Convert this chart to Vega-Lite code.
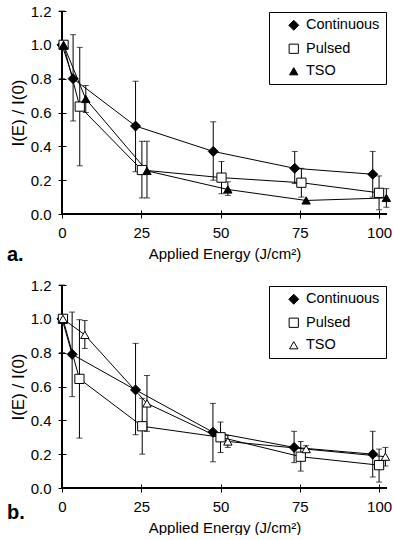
{
  "$schema": "https://vega.github.io/schema/vega-lite/v6.json",
  "padding": {"left": 7, "top": 4, "right": 0, "bottom": 0},
  "spacing": 13,
  "resolve": {
    "scale": {"fill": "independent", "shape": "independent", "size": "independent"},
    "legend": {"fill": "independent", "shape": "independent", "size": "independent"}
  },
  "config": {
    "font": "Liberation Sans",
    "view": {"stroke": null},
    "axis": {
      "grid": false, "domain": false, "tickSize": 8, "offset": -4, "tickColor": "black", "tickWidth": 1,
      "labelFontSize": 15, "labelColor": "black", "labelPadding": 7, "labelFlush": false, "labelOverlap": false,
      "titleFontSize": 15, "titleFontWeight": "normal", "titleColor": "black"
    },
    "axisX": {"titlePadding": 6},
    "axisY": {"titleFontSize": 17, "titlePadding": 3},
    "legend": {
      "title": null, "orient": "top-right", "offset": 1,
      "strokeColor": "black", "fillColor": "white", "padding": 6,
      "labelFontSize": 14.5, "labelColor": "black", "symbolSize": 100, "symbolOffset": 11.5, "labelOffset": 5, "rowPadding": 7.5,
      "symbolStrokeColor": "black", "symbolStrokeWidth": 1
    }
  },
  "datasets": {
    "a": [
      {"series": "Continuous", "x": 0, "y": 1.0, "lo": 0.8, "hi": 1.2},
      {"series": "Continuous", "x": 3.5, "y": 0.80, "lo": 0.55, "hi": 1.06},
      {"series": "Continuous", "x": 23.2, "y": 0.52, "lo": 0.25, "hi": 0.785},
      {"series": "Continuous", "x": 47.7, "y": 0.37, "lo": 0.2, "hi": 0.545},
      {"series": "Continuous", "x": 73.4, "y": 0.27, "lo": 0.18, "hi": 0.37},
      {"series": "Continuous", "x": 98, "y": 0.235, "lo": 0.1, "hi": 0.37},
      {"series": "Pulsed", "x": 0.5, "y": 1.0},
      {"series": "Pulsed", "x": 5.6, "y": 0.635, "lo": 0.285, "hi": 0.985},
      {"series": "Pulsed", "x": 25.2, "y": 0.26, "lo": 0.095, "hi": 0.43},
      {"series": "Pulsed", "x": 50.3, "y": 0.215, "lo": 0.12, "hi": 0.31},
      {"series": "Pulsed", "x": 75.5, "y": 0.185, "lo": 0.1, "hi": 0.27},
      {"series": "Pulsed", "x": 100, "y": 0.125, "lo": 0.025, "hi": 0.225},
      {"series": "TSO", "x": 0.5, "y": 1.0},
      {"series": "TSO", "x": 7.5, "y": 0.68, "lo": 0.6, "hi": 0.76},
      {"series": "TSO", "x": 26.8, "y": 0.255, "lo": 0.095, "hi": 0.43},
      {"series": "TSO", "x": 52.3, "y": 0.145, "lo": 0.11, "hi": 0.19},
      {"series": "TSO", "x": 77, "y": 0.08},
      {"series": "TSO", "x": 102.3, "y": 0.095, "lo": 0.04, "hi": 0.15}
    ],
    "b": [
      {"series": "Continuous", "x": 0, "y": 1.0, "lo": 0.8, "hi": 1.2},
      {"series": "Continuous", "x": 3.2, "y": 0.79, "lo": 0.54, "hi": 1.04},
      {"series": "Continuous", "x": 23.2, "y": 0.58, "lo": 0.315, "hi": 0.855},
      {"series": "Continuous", "x": 47.6, "y": 0.33, "lo": 0.155, "hi": 0.5},
      {"series": "Continuous", "x": 73.2, "y": 0.24, "lo": 0.15, "hi": 0.335},
      {"series": "Continuous", "x": 98, "y": 0.2, "lo": 0.065, "hi": 0.335},
      {"series": "Pulsed", "x": 0.3, "y": 1.0},
      {"series": "Pulsed", "x": 5.5, "y": 0.645, "lo": 0.295, "hi": 0.995},
      {"series": "Pulsed", "x": 25.3, "y": 0.365, "lo": 0.2, "hi": 0.53},
      {"series": "Pulsed", "x": 50, "y": 0.3, "lo": 0.21, "hi": 0.39},
      {"series": "Pulsed", "x": 75.3, "y": 0.185, "lo": 0.1, "hi": 0.275},
      {"series": "Pulsed", "x": 100, "y": 0.135, "lo": 0.035, "hi": 0.23},
      {"series": "TSO", "x": 0.3, "y": 1.0},
      {"series": "TSO", "x": 7.2, "y": 0.905, "lo": 0.825, "hi": 0.99},
      {"series": "TSO", "x": 26.8, "y": 0.5, "lo": 0.335, "hi": 0.665},
      {"series": "TSO", "x": 52.3, "y": 0.275, "lo": 0.24, "hi": 0.31},
      {"series": "TSO", "x": 77, "y": 0.23, "lo": 0.21, "hi": 0.25},
      {"series": "TSO", "x": 102, "y": 0.185, "lo": 0.13, "hi": 0.24}
    ]
  },
  "vconcat": [
    {
      "width": 325, "height": 203,
      "title": {"text": "a.", "orient": "bottom", "anchor": "start", "frame": "group", "fontSize": 20, "fontWeight": "bold", "color": "black", "dx": -55, "offset": -16},
      "data": {"name": "a"},
      "layer": [
        {"mark": {"type": "rule", "color": "black", "strokeWidth": 1},
         "encoding": {"y": {"datum": 0, "type": "quantitative", "scale": {"domain": [0, 1.2], "nice": false},
                  "axis": {"values": [0, 0.2, 0.4, 0.6, 0.8, 1.0, 1.2], "format": ".1f", "title": "I(E) / I(0)"}}}},
        {"mark": {"type": "rule", "color": "black", "strokeWidth": 1},
         "encoding": {"x": {"datum": 0, "type": "quantitative", "scale": {"domain": [0, 102.5], "nice": false, "zero": false},
                  "axis": {"values": [0, 25, 50, 75, 100], "title": "Applied Energy (J/cm²)"}}}},
        {
          "transform": [{"filter": "isValid(datum.lo)"}],
          "mark": {"type": "errorbar", "ticks": {"size": 6, "color": "black", "thickness": 1}, "rule": {"color": "black", "strokeWidth": 1}},
          "encoding": {
            "x": {"field": "x", "type": "quantitative", "axis": {"values": [0, 25, 50, 75, 100], "title": "Applied Energy (J/cm²)"}},
            "y": {"field": "lo", "type": "quantitative", "axis": {"values": [0, 0.2, 0.4, 0.6, 0.8, 1.0, 1.2], "format": ".1f", "title": "I(E) / I(0)"}},
            "y2": {"field": "hi"}
          }
        },
        {
          "mark": {"type": "line", "color": "black", "strokeWidth": 1},
          "encoding": {
            "x": {"field": "x", "type": "quantitative", "axis": {"values": [0, 25, 50, 75, 100], "title": "Applied Energy (J/cm²)"}},
            "y": {"field": "y", "type": "quantitative", "axis": {"values": [0, 0.2, 0.4, 0.6, 0.8, 1.0, 1.2], "format": ".1f", "title": "I(E) / I(0)"}},
            "detail": {"field": "series"}}
        },
        {
          "mark": {"type": "point", "stroke": "black", "strokeWidth": 1, "opacity": 1, "fillOpacity": 1},
          "encoding": {
            "x": {"field": "x", "type": "quantitative", "axis": {"values": [0, 25, 50, 75, 100], "title": "Applied Energy (J/cm²)"}},
            "y": {"field": "y", "type": "quantitative", "axis": {"values": [0, 0.2, 0.4, 0.6, 0.8, 1.0, 1.2], "format": ".1f", "title": "I(E) / I(0)"}},
            "shape": {"field": "series", "type": "nominal", "scale": {"domain": ["Continuous", "Pulsed", "TSO"], "range": ["diamond", "square", "triangle-up"]}, "legend": null},
            "fill": {"field": "series", "type": "nominal", "scale": {"domain": ["Continuous", "Pulsed", "TSO"], "range": ["black", "white", "black"]},
              "legend": {
                "symbolType": {"expr": "datum.value === 'Continuous' ? 'M-2.8,0H-1M-1,0L0,-1L1,0L0,1ZM1,0H2.8' : datum.value === 'Pulsed' ? 'M-2.8,0H-0.8M-0.8,-0.8H0.8V0.8H-0.8ZM0.8,0H2.8' : 'M-2.8,0H-0.53M0.53,0H2.8M0,-0.9L1,0.8L-1,0.8Z'"},
                "encoding": {"symbols": {
                "shape": {"value": {"expr": "datum.value === 'Continuous' ? 'M-2.8,0H-1M-1,0L0,-1L1,0L0,1ZM1,0H2.8' : datum.value === 'Pulsed' ? 'M-2.8,0H-0.8M-0.8,-0.8H0.8V0.8H-0.8ZM0.8,0H2.8' : 'M-2.8,0H-0.53M0.53,0H2.8M0,-0.9L1,0.8L-1,0.8Z'"}},
                "fill": {"value": {"expr": "datum.value === 'Pulsed' ? 'white' : 'black'"}},
                "size": {"value": 100},
                "stroke": {"value": "black"}, "strokeWidth": {"value": 1}, "opacity": {"value": 1}, "fillOpacity": {"value": 1}}}}},
            "size": {"field": "series", "type": "ordinal", "scale": {"domain": ["Continuous", "Pulsed", "TSO"], "range": [100, 70, 80]},
              "legend": {
                "symbolType": {"expr": "datum.value === 'Continuous' ? 'M-2.8,0H-1M-1,0L0,-1L1,0L0,1ZM1,0H2.8' : datum.value === 'Pulsed' ? 'M-2.8,0H-0.8M-0.8,-0.8H0.8V0.8H-0.8ZM0.8,0H2.8' : 'M-2.8,0H-0.53M0.53,0H2.8M0,-0.9L1,0.8L-1,0.8Z'"},
                "encoding": {"symbols": {
                "shape": {"value": {"expr": "datum.value === 'Continuous' ? 'M-2.8,0H-1M-1,0L0,-1L1,0L0,1ZM1,0H2.8' : datum.value === 'Pulsed' ? 'M-2.8,0H-0.8M-0.8,-0.8H0.8V0.8H-0.8ZM0.8,0H2.8' : 'M-2.8,0H-0.53M0.53,0H2.8M0,-0.9L1,0.8L-1,0.8Z'"}},
                "fill": {"value": {"expr": "datum.value === 'Pulsed' ? 'white' : 'black'"}},
                "size": {"value": 100},
                "stroke": {"value": "black"}, "strokeWidth": {"value": 1}, "opacity": {"value": 1}, "fillOpacity": {"value": 1}}}}}
          }
        }
      ]
    },
    {
      "width": 325, "height": 203,
      "title": {"text": "b.", "orient": "bottom", "anchor": "start", "frame": "group", "fontSize": 20, "fontWeight": "bold", "color": "black", "dx": -55, "offset": -32},
      "data": {"name": "b"},
      "layer": [
        {"mark": {"type": "rule", "color": "black", "strokeWidth": 1},
         "encoding": {"y": {"datum": 0, "type": "quantitative", "scale": {"domain": [0, 1.2], "nice": false},
                  "axis": {"values": [0, 0.2, 0.4, 0.6, 0.8, 1.0, 1.2], "format": ".1f", "title": "I(E) / I(0)"}}}},
        {"mark": {"type": "rule", "color": "black", "strokeWidth": 1},
         "encoding": {"x": {"datum": 0, "type": "quantitative", "scale": {"domain": [0, 102.5], "nice": false, "zero": false},
                  "axis": {"values": [0, 25, 50, 75, 100], "title": "Applied Energy (J/cm²)"}}}},
        {
          "transform": [{"filter": "isValid(datum.lo)"}],
          "mark": {"type": "errorbar", "ticks": {"size": 6, "color": "black", "thickness": 1}, "rule": {"color": "black", "strokeWidth": 1}},
          "encoding": {
            "x": {"field": "x", "type": "quantitative", "axis": {"values": [0, 25, 50, 75, 100], "title": "Applied Energy (J/cm²)"}},
            "y": {"field": "lo", "type": "quantitative", "axis": {"values": [0, 0.2, 0.4, 0.6, 0.8, 1.0, 1.2], "format": ".1f", "title": "I(E) / I(0)"}},
            "y2": {"field": "hi"}
          }
        },
        {
          "mark": {"type": "line", "color": "black", "strokeWidth": 1},
          "encoding": {
            "x": {"field": "x", "type": "quantitative", "axis": {"values": [0, 25, 50, 75, 100], "title": "Applied Energy (J/cm²)"}},
            "y": {"field": "y", "type": "quantitative", "axis": {"values": [0, 0.2, 0.4, 0.6, 0.8, 1.0, 1.2], "format": ".1f", "title": "I(E) / I(0)"}},
            "detail": {"field": "series"}}
        },
        {
          "mark": {"type": "point", "stroke": "black", "strokeWidth": 1, "opacity": 1, "fillOpacity": 1},
          "encoding": {
            "x": {"field": "x", "type": "quantitative", "axis": {"values": [0, 25, 50, 75, 100], "title": "Applied Energy (J/cm²)"}},
            "y": {"field": "y", "type": "quantitative", "axis": {"values": [0, 0.2, 0.4, 0.6, 0.8, 1.0, 1.2], "format": ".1f", "title": "I(E) / I(0)"}},
            "shape": {"field": "series", "type": "nominal", "scale": {"domain": ["Continuous", "Pulsed", "TSO"], "range": ["diamond", "square", "triangle-up"]}, "legend": null},
            "fill": {"field": "series", "type": "nominal", "scale": {"domain": ["Continuous", "Pulsed", "TSO"], "range": ["black", "white", "white"]},
              "legend": {
                "symbolType": {"expr": "datum.value === 'Continuous' ? 'M-2.8,0H-1M-1,0L0,-1L1,0L0,1ZM1,0H2.8' : datum.value === 'Pulsed' ? 'M-2.8,0H-0.8M-0.8,-0.8H0.8V0.8H-0.8ZM0.8,0H2.8' : 'M-2.8,0H-0.53M0.53,0H2.8M0,-0.9L1,0.8L-1,0.8Z'"},
                "encoding": {"symbols": {
                "shape": {"value": {"expr": "datum.value === 'Continuous' ? 'M-2.8,0H-1M-1,0L0,-1L1,0L0,1ZM1,0H2.8' : datum.value === 'Pulsed' ? 'M-2.8,0H-0.8M-0.8,-0.8H0.8V0.8H-0.8ZM0.8,0H2.8' : 'M-2.8,0H-0.53M0.53,0H2.8M0,-0.9L1,0.8L-1,0.8Z'"}},
                "fill": {"value": {"expr": "datum.value === 'Continuous' ? 'black' : 'white'"}},
                "size": {"value": 100},
                "stroke": {"value": "black"}, "strokeWidth": {"value": 1}, "opacity": {"value": 1}, "fillOpacity": {"value": 1}}}}},
            "size": {"field": "series", "type": "ordinal", "scale": {"domain": ["Continuous", "Pulsed", "TSO"], "range": [100, 70, 80]},
              "legend": {
                "symbolType": {"expr": "datum.value === 'Continuous' ? 'M-2.8,0H-1M-1,0L0,-1L1,0L0,1ZM1,0H2.8' : datum.value === 'Pulsed' ? 'M-2.8,0H-0.8M-0.8,-0.8H0.8V0.8H-0.8ZM0.8,0H2.8' : 'M-2.8,0H-0.53M0.53,0H2.8M0,-0.9L1,0.8L-1,0.8Z'"},
                "encoding": {"symbols": {
                "shape": {"value": {"expr": "datum.value === 'Continuous' ? 'M-2.8,0H-1M-1,0L0,-1L1,0L0,1ZM1,0H2.8' : datum.value === 'Pulsed' ? 'M-2.8,0H-0.8M-0.8,-0.8H0.8V0.8H-0.8ZM0.8,0H2.8' : 'M-2.8,0H-0.53M0.53,0H2.8M0,-0.9L1,0.8L-1,0.8Z'"}},
                "fill": {"value": {"expr": "datum.value === 'Continuous' ? 'black' : 'white'"}},
                "size": {"value": 100},
                "stroke": {"value": "black"}, "strokeWidth": {"value": 1}, "opacity": {"value": 1}, "fillOpacity": {"value": 1}}}}}
          }
        }
      ]
    }
  ]
}
